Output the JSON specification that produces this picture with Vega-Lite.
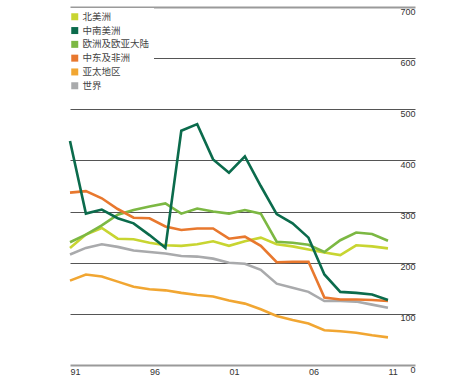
{
  "$schema": "https://vega.github.io/schema/vega-lite/v6.json",
  "width": 345,
  "height": 358,
  "autosize": {"type": "none"},
  "padding": {"left": 70, "top": 7, "right": 50, "bottom": 22},
  "background": "white",
  "config": {"view": {"stroke": null}, "font": "Liberation Sans"},
  "data": {"values": [
    {"year":1991,"region":"北美洲","value":229},{"year":1992,"region":"北美洲","value":255},{"year":1993,"region":"北美洲","value":268},{"year":1994,"region":"北美洲","value":247},{"year":1995,"region":"北美洲","value":246},{"year":1996,"region":"北美洲","value":239},{"year":1997,"region":"北美洲","value":234},{"year":1998,"region":"北美洲","value":233},{"year":1999,"region":"北美洲","value":236},{"year":2000,"region":"北美洲","value":242},{"year":2001,"region":"北美洲","value":233},{"year":2002,"region":"北美洲","value":242},{"year":2003,"region":"北美洲","value":249},{"year":2004,"region":"北美洲","value":236},{"year":2005,"region":"北美洲","value":232},{"year":2006,"region":"北美洲","value":226},{"year":2007,"region":"北美洲","value":220},{"year":2008,"region":"北美洲","value":215},{"year":2009,"region":"北美洲","value":234},{"year":2010,"region":"北美洲","value":232},{"year":2011,"region":"北美洲","value":228},
    {"year":1991,"region":"欧洲及欧亚大陆","value":240},{"year":1992,"region":"欧洲及欧亚大陆","value":255},{"year":1993,"region":"欧洲及欧亚大陆","value":273},{"year":1994,"region":"欧洲及欧亚大陆","value":294},{"year":1995,"region":"欧洲及欧亚大陆","value":303},{"year":1996,"region":"欧洲及欧亚大陆","value":310},{"year":1997,"region":"欧洲及欧亚大陆","value":316},{"year":1998,"region":"欧洲及欧亚大陆","value":296},{"year":1999,"region":"欧洲及欧亚大陆","value":306},{"year":2000,"region":"欧洲及欧亚大陆","value":300},{"year":2001,"region":"欧洲及欧亚大陆","value":296},{"year":2002,"region":"欧洲及欧亚大陆","value":303},{"year":2003,"region":"欧洲及欧亚大陆","value":296},{"year":2004,"region":"欧洲及欧亚大陆","value":241},{"year":2005,"region":"欧洲及欧亚大陆","value":239},{"year":2006,"region":"欧洲及欧亚大陆","value":235},{"year":2007,"region":"欧洲及欧亚大陆","value":221},{"year":2008,"region":"欧洲及欧亚大陆","value":244},{"year":2009,"region":"欧洲及欧亚大陆","value":259},{"year":2010,"region":"欧洲及欧亚大陆","value":256},{"year":2011,"region":"欧洲及欧亚大陆","value":243},
    {"year":1991,"region":"亚太地区","value":165},{"year":1992,"region":"亚太地区","value":177},{"year":1993,"region":"亚太地区","value":173},{"year":1994,"region":"亚太地区","value":163},{"year":1995,"region":"亚太地区","value":153},{"year":1996,"region":"亚太地区","value":148},{"year":1997,"region":"亚太地区","value":146},{"year":1998,"region":"亚太地区","value":141},{"year":1999,"region":"亚太地区","value":137},{"year":2000,"region":"亚太地区","value":134},{"year":2001,"region":"亚太地区","value":126},{"year":2002,"region":"亚太地区","value":120},{"year":2003,"region":"亚太地区","value":109},{"year":2004,"region":"亚太地区","value":96},{"year":2005,"region":"亚太地区","value":88},{"year":2006,"region":"亚太地区","value":81},{"year":2007,"region":"亚太地区","value":68},{"year":2008,"region":"亚太地区","value":66},{"year":2009,"region":"亚太地区","value":63},{"year":2010,"region":"亚太地区","value":58},{"year":2011,"region":"亚太地区","value":54},
    {"year":1991,"region":"世界","value":216},{"year":1992,"region":"世界","value":229},{"year":1993,"region":"世界","value":236},{"year":1994,"region":"世界","value":231},{"year":1995,"region":"世界","value":224},{"year":1996,"region":"世界","value":221},{"year":1997,"region":"世界","value":218},{"year":1998,"region":"世界","value":213},{"year":1999,"region":"世界","value":212},{"year":2000,"region":"世界","value":208},{"year":2001,"region":"世界","value":200},{"year":2002,"region":"世界","value":198},{"year":2003,"region":"世界","value":186},{"year":2004,"region":"世界","value":159},{"year":2005,"region":"世界","value":151},{"year":2006,"region":"世界","value":143},{"year":2007,"region":"世界","value":125},{"year":2008,"region":"世界","value":125},{"year":2009,"region":"世界","value":124},{"year":2010,"region":"世界","value":118},{"year":2011,"region":"世界","value":112},
    {"year":1991,"region":"中东及非洲","value":337},{"year":1992,"region":"中东及非洲","value":340},{"year":1993,"region":"中东及非洲","value":326},{"year":1994,"region":"中东及非洲","value":305},{"year":1995,"region":"中东及非洲","value":288},{"year":1996,"region":"中东及非洲","value":287},{"year":1997,"region":"中东及非洲","value":271},{"year":1998,"region":"中东及非洲","value":264},{"year":1999,"region":"中东及非洲","value":267},{"year":2000,"region":"中东及非洲","value":267},{"year":2001,"region":"中东及非洲","value":247},{"year":2002,"region":"中东及非洲","value":251},{"year":2003,"region":"中东及非洲","value":233},{"year":2004,"region":"中东及非洲","value":201},{"year":2005,"region":"中东及非洲","value":202},{"year":2006,"region":"中东及非洲","value":202},{"year":2007,"region":"中东及非洲","value":132},{"year":2008,"region":"中东及非洲","value":128},{"year":2009,"region":"中东及非洲","value":128},{"year":2010,"region":"中东及非洲","value":127},{"year":2011,"region":"中东及非洲","value":125},
    {"year":1991,"region":"中南美洲","value":438},{"year":1992,"region":"中南美洲","value":296},{"year":1993,"region":"中南美洲","value":304},{"year":1994,"region":"中南美洲","value":287},{"year":1995,"region":"中南美洲","value":277},{"year":1996,"region":"中南美洲","value":254},{"year":1997,"region":"中南美洲","value":229},{"year":1998,"region":"中南美洲","value":458},{"year":1999,"region":"中南美洲","value":471},{"year":2000,"region":"中南美洲","value":402},{"year":2001,"region":"中南美洲","value":376},{"year":2002,"region":"中南美洲","value":408},{"year":2003,"region":"中南美洲","value":350},{"year":2004,"region":"中南美洲","value":295},{"year":2005,"region":"中南美洲","value":277},{"year":2006,"region":"中南美洲","value":249},{"year":2007,"region":"中南美洲","value":177},{"year":2008,"region":"中南美洲","value":143},{"year":2009,"region":"中南美洲","value":141},{"year":2010,"region":"中南美洲","value":138},{"year":2011,"region":"中南美洲","value":127}
  ]},
  "mark": {"type": "line", "strokeWidth": 2.6, "clip": false},
  "encoding": {
    "x": {
      "field": "year", "type": "quantitative",
      "scale": {"domain": [1991, 2012.7], "nice": false, "zero": false},
      "axis": {
        "title": null, "grid": false, "ticks": false, "tickSize": 0, "domain": false,
        "values": [1991, 1996, 2001, 2006, 2011],
        "labelExpr": "substring(toString(datum.value), 2)",
        "labelFlush": false, "labelAlign": "left", "labelDx": -1,
        "labelPadding": 2, "labelFontSize": 9, "labelColor": "#333"
      }
    },
    "y": {
      "field": "value", "type": "quantitative",
      "scale": {"domain": [0, 700], "nice": false},
      "axis": {
        "title": null, "orient": "right", "domain": false, "ticks": false, "tickSize": 0,
        "values": [0, 100, 200, 300, 400, 500, 600, 700],
        "grid": true,
        "gridColor": {"condition": {"test": "datum.value === 0 || datum.value === 700", "value": "#9a9a9a"}, "value": "#555555"},
        "gridWidth": {"condition": {"test": "datum.value === 0 || datum.value === 700", "value": 2}, "value": 1},
        "labelAlign": "right", "labelBaseline": "top", "labelPadding": 0, "labelDy": 3,
        "labelFontSize": 9, "labelColor": "#333"
      }
    },
    "color": {
      "field": "region", "type": "nominal",
      "scale": {
        "domain": ["北美洲", "中南美洲", "欧洲及欧亚大陆", "中东及非洲", "亚太地区", "世界"],
        "range": ["#c8d531", "#0b6b4c", "#7cb843", "#e8782e", "#f1a632", "#a9aaac"]
      },
      "legend": {
        "title": null, "orient": "none", "legendX": -4, "legendY": 1,
        "padding": 4, "fillColor": "white",
        "symbolType": "square", "symbolSize": 49, "symbolStrokeWidth": 0,
        "labelFont": "Noto Sans CJK SC", "labelFontSize": 9.5, "labelColor": "#444",
        "labelOffset": 3, "rowPadding": 2.8,
        "encode": {"symbols": {"update": {"fill": {"scale": "color", "field": "value"}, "fillOpacity": {"value": 1}, "strokeWidth": {"value": 0}}}}
      }
    }
  }
}
